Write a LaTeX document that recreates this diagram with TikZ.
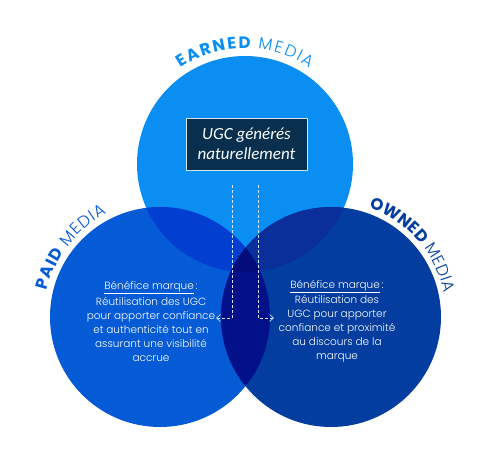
\documentclass[tikz,border=0pt]{standalone}
\usepackage{fontspec}
\usetikzlibrary{decorations.text,arrows.meta}
\newfontfamily\popfont{Poppins}
\newfontfamily\poplight{Poppins Light}
\newfontfamily\calfont{Carlito}
\definecolor{topblue}{HTML}{0A8EF2}
\definecolor{leftblue}{HTML}{055AD6}
\definecolor{rightblue}{HTML}{033D9F}
\definecolor{tlblue}{HTML}{023ECF}
\definecolor{trblue}{HTML}{0A2F9A}
\definecolor{lrblue}{HTML}{02108A}
\definecolor{allblue}{HTML}{020C7A}
\definecolor{boxnavy}{HTML}{082F4E}
\definecolor{guidegray}{HTML}{D8E4F4}
\def\topc{(245,288) circle[radius=108]}
\def\leftc{(160,135) circle[radius=110]}
\def\rightc{(331,135) circle[radius=110]}
\tikzset{
  ugcbox/.style={draw=guidegray, line width=0.7pt, fill=boxnavy, text=white,
    align=center, minimum width=121pt, minimum height=52pt, inner sep=2pt,
    font=\calfont\itshape\fontsize{17}{20}\selectfont},
  benefit/.style={align=center, text=white, inner sep=0pt,
    font=\poplight\fontsize{10.5}{14}\selectfont},
  guide/.style={draw=guidegray, line width=0.6pt, densely dashed,
    -{Straight Barb[length=4pt,width=7pt]}},
}
\begin{document}
\begin{tikzpicture}[x=1pt,y=1pt]
  \useasboundingbox (0,0) rectangle (491,452);
  % circles
  \fill[topblue] \topc;
  \fill[leftblue] \leftc;
  \fill[rightblue] \rightc;
  \begin{scope}
    \clip \topc;
    \fill[tlblue] \leftc;
    \fill[trblue] \rightc;
  \end{scope}
  \begin{scope}
    \clip \leftc;
    \fill[lrblue] \rightc;
  \end{scope}
  \begin{scope}
    \clip \topc;
    \clip \leftc;
    \fill[allblue] \rightc;
  \end{scope}
  % curved titles
  \path[decorate, decoration={text along path, text align=fit to path, text color=topblue,
      text={|\popfont\bfseries\fontsize{16.5}{16}\selectfont|EARNED |\poplight\fontsize{16.5}{16}\selectfont|MEDIA}}]
    (245,288) ++(124:116) arc[start angle=124, end angle=56, radius=116];
  \path[decorate, decoration={text along path, text align=fit to path, text color=leftblue,
      text={|\popfont\bfseries\fontsize{16.5}{16}\selectfont|PAID |\poplight\fontsize{16.5}{16}\selectfont|MEDIA}}]
    (160,135) ++(167:116) arc[start angle=167, end angle=117, radius=116];
  \path[decorate, decoration={text along path, text align=fit to path, text color=rightblue,
      text={|\popfont\bfseries\fontsize{16.5}{16}\selectfont|OWNED |\poplight\fontsize{16.5}{16}\selectfont|MEDIA}}]
    (331,135) ++(71:116) arc[start angle=71, end angle=12, radius=116];
  % box and texts
  \node[ugcbox] (ugc) at (246.5,308) {UGC générés\\naturellement};
  \node[benefit] (paid) at (151,130.5) {\underline{Bénéfice marque}\,:\\[2pt]
    Réutilisation des UGC\\pour apporter confiance\\et authenticité tout en\\
    assurant une visibilité\\accrue};
  \node[benefit] (owned) at (337,131) {\underline{Bénéfice marque}\,:\\[1pt]
    Réutilisation des\\UGC pour apporter\\confiance et proximité\\
    au discours de la\\marque};
  % guides
  \coordinate (lstart) at (232,267);
  \coordinate (lend) at (216,134);
  \coordinate (rstart) at (258,267);
  \coordinate (rend) at (274,134);
  \draw[guide] (lstart) |- (lend);
  \draw[guide] (rstart) |- (rend);
\end{tikzpicture}
\end{document}
